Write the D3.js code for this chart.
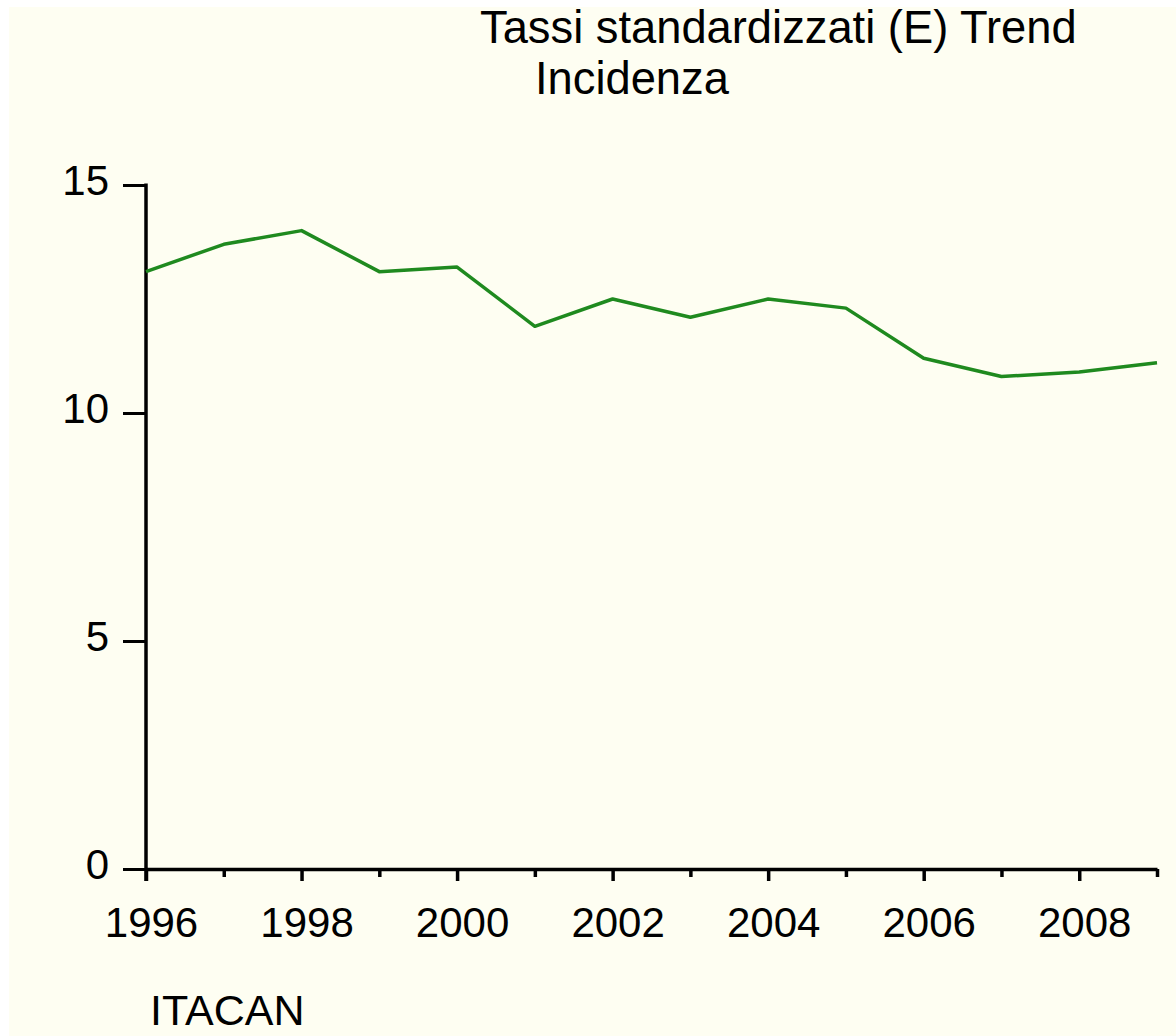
<!DOCTYPE html>
<html>
<head>
<meta charset="utf-8">
<script src="https://cdn.jsdelivr.net/npm/d3@7"></script>
<style>
  html, body { margin: 0; padding: 0; background: #ffffff; }
  svg { display: block; font-family: "Liberation Sans", Arial, sans-serif; }
</style>
</head>
<body>
<div id="chart"></div>
<script>
// ── Data ──────────────────────────────────────────────────────────────────────
const YEARS  = [1996, 1997, 1998, 1999, 2000, 2001, 2002, 2003, 2004, 2005, 2006, 2007, 2008, 2009];
const RATES  = [13.1, 13.7, 14.0, 13.1, 13.2, 11.9, 12.5, 12.1, 12.5, 12.3, 11.2, 10.8, 10.9, 11.1];
const Y_TICKS = [0, 5, 10, 15];
const X_MAJOR = [1996, 1998, 2000, 2002, 2004, 2006, 2008];
const TITLE_LINES = ["Tassi standardizzati (E) Trend", "Incidenza"];
const SOURCE = "ITACAN";

// ── Dimensions ────────────────────────────────────────────────────────────────
const W = 1176, H = 1036;
const x0 = 146, x1 = 1157, yTop = 185, yBot = 869;

const svg = d3.select("#chart").append("svg")
  .attr("width", W).attr("height", H);

// pale paper background with thin white margin
svg.append("rect").attr("x", 9).attr("y", 7)
  .attr("width", W - 9).attr("height", H - 7)
  .attr("fill", "#fefef2");

// ── Scales ────────────────────────────────────────────────────────────────────
const x = d3.scaleLinear().domain([1996, 2009]).range([x0, x1]);
const y = d3.scaleLinear().domain([0, 15]).range([yBot, yTop]);

// ── Axes ──────────────────────────────────────────────────────────────────────
const yAxis = svg.append("g").attr("transform", `translate(${x0},0)`)
  .call(d3.axisLeft(y).tickValues(Y_TICKS).tickSize(23).tickSizeOuter(0).tickPadding(14));
yAxis.select(".domain").remove();
yAxis.selectAll(".tick line").attr("stroke", "#000").attr("stroke-width", 3);
yAxis.selectAll(".tick text")
  .attr("font-size", 42).attr("fill", "#000")
  .attr("font-family", "Liberation Sans, Arial, sans-serif")
  .attr("dy", "0.22em");

// vertical axis line (runs down to the bottom of the first tick)
svg.append("line")
  .attr("x1", x0).attr("x2", x0)
  .attr("y1", y(15) - 1.5).attr("y2", yBot + 12)
  .attr("stroke", "#000").attr("stroke-width", 3.5);

// minor ticks for every year
const xMinor = svg.append("g").attr("transform", `translate(0,${yBot})`)
  .call(d3.axisBottom(x).tickValues(YEARS.filter(d => !X_MAJOR.includes(d))).tickSize(8).tickFormat(""));
xMinor.select(".domain").remove();
xMinor.selectAll(".tick line").attr("stroke", "#000").attr("stroke-width", 3.5);

const xAxis = svg.append("g").attr("transform", `translate(0,${yBot})`)
  .call(d3.axisBottom(x).tickValues(X_MAJOR).tickSize(12).tickSizeOuter(0)
    .tickPadding(26).tickFormat(d3.format("d")));
xAxis.select(".domain").attr("stroke", "#000").attr("stroke-width", 3.5);
xAxis.selectAll(".tick line").attr("stroke", "#000").attr("stroke-width", 3.5);
xAxis.selectAll(".tick text")
  .attr("font-size", 42).attr("fill", "#000")
  .attr("font-family", "Liberation Sans, Arial, sans-serif")
  .attr("dx", 5);

// ── Line ──────────────────────────────────────────────────────────────────────
const line = d3.line().x((d, i) => x(YEARS[i])).y(d => y(d));
svg.append("path").datum(RATES)
  .attr("d", line)
  .attr("fill", "none")
  .attr("stroke", "#1f8a1f")
  .attr("stroke-width", 3.5)
  .attr("stroke-linejoin", "round");

// ── Text ──────────────────────────────────────────────────────────────────────
svg.append("text").attr("x", 480).attr("y", 43)
  .attr("font-size", 45.3).attr("fill", "#000")
  .text(TITLE_LINES[0]);
svg.append("text").attr("x", 535).attr("y", 94)
  .attr("font-size", 45.3).attr("fill", "#000")
  .text(TITLE_LINES[1]);

svg.append("text").attr("x", 150).attr("y", 1025)
  .attr("font-size", 43).attr("fill", "#000")
  .text(SOURCE);
</script>
</body>
</html>
